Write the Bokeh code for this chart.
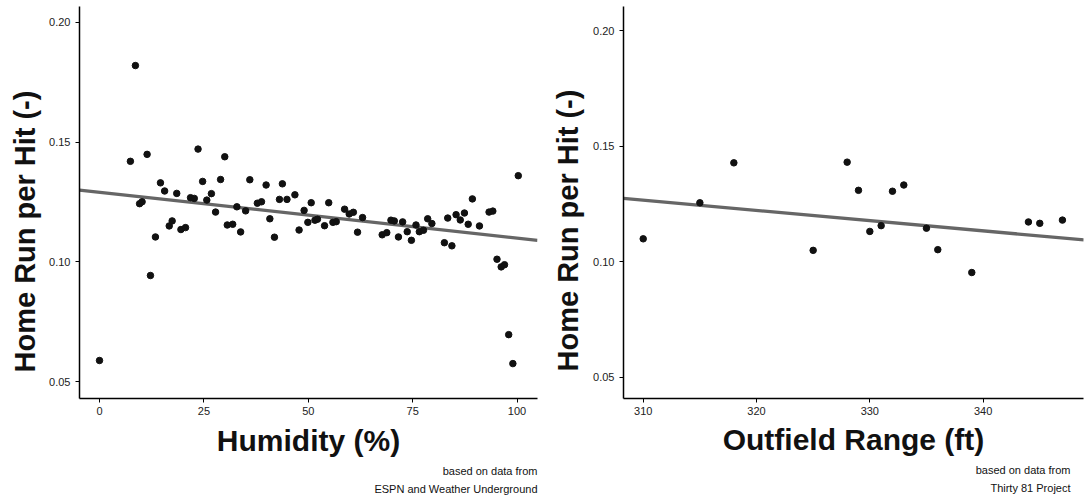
from bokeh.plotting import figure
from bokeh.layouts import row
from bokeh.models import Range1d, FixedTicker, PrintfTickFormatter, Title
from bokeh.embed import file_html
from bokeh.resources import INLINE

# ---- data: left panel (humidity) ----
humidity = [0, 7.4, 8.6, 9.6, 10.2, 11.4, 12.2, 13.4, 14.6, 15.6,
            16.7, 17.4, 18.5, 19.5, 20.6, 21.8, 22.7, 23.6, 24.7, 25.7,
            26.8, 27.8, 29.0, 30.0, 30.6, 31.9, 32.9, 33.8, 35.0, 36.0,
            37.8, 38.8, 39.9, 40.8, 41.9, 43.1, 43.8, 44.9, 46.8, 47.8,
            49.0, 49.9, 50.7, 51.6, 52.2, 53.9, 54.9, 55.9, 56.7, 58.7,
            59.8, 60.8, 61.8, 63.0, 67.7, 68.8, 69.8, 70.6, 71.6, 72.6,
            73.7, 74.7, 75.8, 76.6, 77.6, 78.6, 79.6, 82.6, 83.4, 84.4,
            85.4, 86.4, 87.4, 88.3, 89.3, 91.0, 93.3, 94.2, 95.2, 96.2,
            97.0, 98.0, 99.0, 100.3]
hr_humidity = [0.0588, 0.142, 0.182, 0.1243, 0.1251, 0.1449, 0.0943, 0.1104, 0.133, 0.1296,
               0.115, 0.1171, 0.1286, 0.1135, 0.1143, 0.1268, 0.1265, 0.1471, 0.1336, 0.1258,
               0.1285, 0.1208, 0.1344, 0.1439, 0.1154, 0.1157, 0.123, 0.1125, 0.1213, 0.1343,
               0.1245, 0.1251, 0.1321, 0.118, 0.1103, 0.1261, 0.1326, 0.1261, 0.128, 0.1133,
               0.1215, 0.1165, 0.1247, 0.1174, 0.1178, 0.1151, 0.1247, 0.1165, 0.1168, 0.122,
               0.12, 0.1207, 0.1124, 0.1185, 0.1113, 0.1122, 0.1174, 0.1171, 0.1104, 0.1167,
               0.1126, 0.109, 0.1154, 0.1126, 0.1132, 0.118, 0.116, 0.108, 0.1183, 0.1067,
               0.1197, 0.1175, 0.1204, 0.1157, 0.1263, 0.115, 0.1208, 0.1212, 0.1011, 0.0979,
               0.0988, 0.0696, 0.0575, 0.136]
humidity_fit_x = [-4.8, 104.9]
humidity_fit_y = [0.1300, 0.1090]
humidity_ticks = [0, 25, 50, 75, 100]

# ---- data: right panel (outfield range) ----
outfield = [310, 315, 318, 325, 328, 329, 330, 331, 332, 333, 335, 336, 339, 344, 345, 347]
hr_outfield = [0.110, 0.1256, 0.1429, 0.105, 0.1432, 0.131, 0.1132, 0.1157,
               0.1306, 0.1333, 0.1146, 0.1053, 0.0954, 0.1173, 0.1167, 0.1181]
outfield_fit_x = [308.26, 348.9]
outfield_fit_y = [0.1275, 0.1095]
outfield_ticks = [310, 320, 330, 340]

y_ticks = [0.05, 0.10, 0.15, 0.20]
y_title = "Home Run per Hit (-)"

FONT = "Liberation Sans"
POINT = "#111111"
LINE = "#666666"
H = 496


def make_panel(x, y, fx, fy, xticks, xr, yr, width, bl, br, bt, bb, xlabel, caps,
               cap_off, ylab_off, ylab_sd, xlab_sd):
    p = figure(width=width, height=H, output_backend="svg", toolbar_location=None,
               x_range=Range1d(*xr), y_range=Range1d(*yr),
               min_border_left=bl, min_border_right=br, min_border_top=bt,
               min_border_bottom=bb)
    p.outline_line_color = None
    p.xgrid.visible = False
    p.ygrid.visible = False
    p.background_fill_color = "white"
    p.border_fill_color = "white"

    p.line(fx, fy, line_color=LINE, line_width=3.3)
    p.scatter(x, y, size=6.5, fill_color=POINT, line_color=POINT)

    for ax in (p.xaxis[0], p.yaxis[0]):
        ax.axis_line_color = "black"
        ax.axis_line_width = 1.5
        ax.major_tick_line_color = "black"
        ax.major_tick_in = 0
        ax.major_tick_out = 4
        ax.minor_tick_line_color = None
        ax.major_label_text_font = FONT
        ax.major_label_text_font_size = "11px"
        ax.major_label_text_color = "#222222"
        ax.axis_label_text_font = FONT
        ax.axis_label_text_font_size = "30px"
        ax.axis_label_text_font_style = "bold"
        ax.axis_label_text_color = "#111111"

    p.xaxis[0].ticker = FixedTicker(ticks=xticks)
    p.xaxis[0].axis_label = xlabel
    p.xaxis[0].major_label_standoff = 4
    p.xaxis[0].axis_label_standoff = xlab_sd

    p.yaxis[0].ticker = FixedTicker(ticks=y_ticks)
    p.yaxis[0].formatter = PrintfTickFormatter(format="%.2f")
    p.yaxis[0].major_label_standoff = 5

    # vertical axis title, starting a little above the frame bottom as in the reference
    p.add_layout(Title(text=y_title, align="left", text_font=FONT, text_font_size="29px",
                       text_font_style="bold", text_color="#111111",
                       standoff=ylab_sd, offset=ylab_off), "left")

    # captions below the axis, right-aligned to the frame
    for txt, sd in zip(caps, (6, 2)):
        p.add_layout(Title(text=txt, align="right", text_font=FONT, text_font_size="11px",
                           text_font_style="normal", text_color="#111111",
                           standoff=sd, offset=cap_off), "below")
    return p


left = make_panel(humidity, hr_humidity, humidity_fit_x, humidity_fit_y, humidity_ticks,
                  (-4.79, 104.9), (0.04292, 0.20667), 540, 79, 3, 5, 98,
                  "Humidity (%)", ("based on data from", "ESPN and Weather Underground"),
                  0, 26, 11, 6)
right = make_panel(outfield, hr_outfield, outfield_fit_x, outfield_fit_y, outfield_ticks,
                   (308.26, 348.86), (0.04085, 0.2106), 546, 83, 3, 6, 94,
                   "Outfield Range (ft)", ("based on data from", "Thirty 81 Project"),
                   13, 27, 14, 5)

layout = row(left, right)
open("out.html", "w").write(file_html(layout, INLINE))
